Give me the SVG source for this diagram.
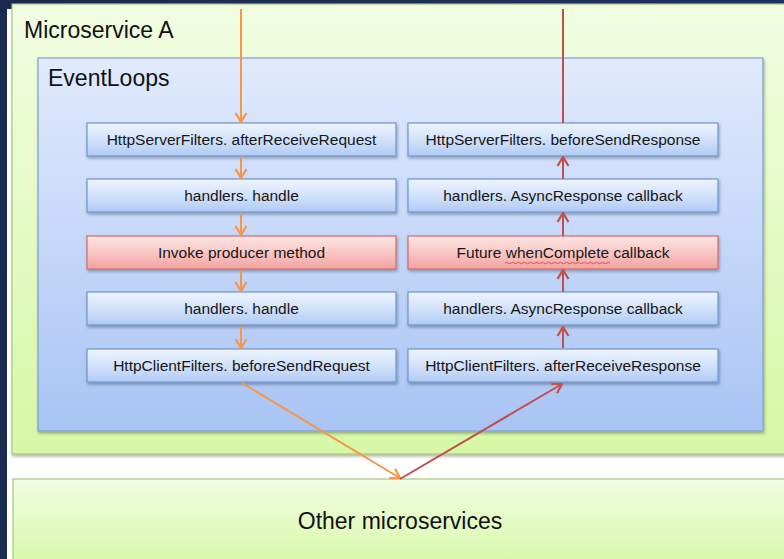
<svg xmlns="http://www.w3.org/2000/svg" width="784" height="559" viewBox="0 0 784 559">
  <defs>
    <linearGradient id="bg" x1="0" y1="0" x2="1" y2="0">
      <stop offset="0" stop-color="#1b2a4f"/>
      <stop offset="1" stop-color="#1f3163"/>
    </linearGradient>
    <linearGradient id="greenFill" x1="0" y1="0" x2="0" y2="1">
      <stop offset="0" stop-color="#f1fde2"/>
      <stop offset="1" stop-color="#d6f8a6"/>
    </linearGradient>
    <linearGradient id="blueFill" x1="0" y1="0" x2="0" y2="1">
      <stop offset="0" stop-color="#e1eafd"/>
      <stop offset="1" stop-color="#a9c4f5"/>
    </linearGradient>
    <linearGradient id="nodeBlue" x1="0" y1="0" x2="0" y2="1">
      <stop offset="0" stop-color="#eef4fe"/>
      <stop offset="0.5" stop-color="#d2e2fb"/>
      <stop offset="1" stop-color="#b1cbf4"/>
    </linearGradient>
    <linearGradient id="nodeRed" x1="0" y1="0" x2="0" y2="1">
      <stop offset="0" stop-color="#fde6e5"/>
      <stop offset="0.5" stop-color="#f9c6c4"/>
      <stop offset="1" stop-color="#f2a3a0"/>
    </linearGradient>
    <filter id="shadow" x="-5%" y="-20%" width="110%" height="150%">
      <feDropShadow dx="1" dy="2" stdDeviation="1.5" flood-color="#000" flood-opacity="0.3"/>
    </filter>
    <marker id="arrOrange" viewBox="0 0 14 14" refX="13" refY="7" markerWidth="14" markerHeight="14" markerUnits="userSpaceOnUse" orient="auto">
      <polyline points="4,1.5 13,7 4,12.5" fill="none" stroke="#f79646" stroke-width="2.2"/>
    </marker>
    <marker id="arrRed" viewBox="0 0 14 14" refX="13" refY="7" markerWidth="14" markerHeight="14" markerUnits="userSpaceOnUse" orient="auto">
      <polyline points="4,1.5 13,7 4,12.5" fill="none" stroke="#c0504d" stroke-width="2.2"/>
    </marker>
  </defs>
  <style>
    .title { font-family: "Liberation Sans", Arial, sans-serif; font-size: 23px; fill: #111; }
    .label { font-family: "Liberation Sans", Arial, sans-serif; font-size: 15.5px; fill: #161616; text-anchor: middle; }
    .nodeB { fill: url(#nodeBlue); stroke: #6f94cc; stroke-width: 1.2; filter: url(#shadow); }
    .nodeR { fill: url(#nodeRed); stroke: #d06a66; stroke-width: 1.2; filter: url(#shadow); }
    .fwd { stroke: #f79646; stroke-width: 2; fill: none; }
    .back { stroke: #c0504d; stroke-width: 2; fill: none; }
  </style>

  <!-- slide background -->
  <rect x="0" y="0" width="784" height="559" fill="url(#bg)"/>
  <rect x="7" y="9" width="777" height="550" fill="#ffffff"/>

  <!-- containers -->
  <g id="microservice-a">
    <rect x="12" y="4" width="780" height="450" fill="url(#greenFill)" stroke="#a9c47f" stroke-width="1.2" filter="url(#shadow)"/>
    <text class="title" x="24" y="38">Microservice A</text>
  </g>
  <g id="eventloops">
    <rect x="38" y="58" width="725" height="373" fill="url(#blueFill)" stroke="#7c9ed3" stroke-width="1.2" filter="url(#shadow)"/>
    <text class="title" x="48" y="86">EventLoops</text>
  </g>
  <g id="other-microservices">
    <rect x="13" y="479" width="780" height="90" fill="url(#greenFill)" stroke="#a9c47f" stroke-width="1.2"/>
    <text class="title" x="400" y="529" text-anchor="middle">Other microservices</text>
  </g>

  <!-- request path (left column) -->
  <g id="req-after-receive">
    <rect class="nodeB" x="87" y="123" width="309" height="33"/>
    <text class="label" x="241.5" y="145">HttpServerFilters. afterReceiveRequest</text>
  </g>
  <g id="req-handle-1">
    <rect class="nodeB" x="87" y="179" width="309" height="33"/>
    <text class="label" x="241.5" y="201">handlers. handle</text>
  </g>
  <g id="invoke-producer">
    <rect class="nodeR" x="87" y="236" width="309" height="33"/>
    <text class="label" x="241.5" y="258">Invoke producer method</text>
  </g>
  <g id="req-handle-2">
    <rect class="nodeB" x="87" y="292" width="309" height="33"/>
    <text class="label" x="241.5" y="314">handlers. handle</text>
  </g>
  <g id="client-before-send">
    <rect class="nodeB" x="87" y="349" width="309" height="33"/>
    <text class="label" x="241.5" y="371">HttpClientFilters. beforeSendRequest</text>
  </g>

  <!-- response path (right column) -->
  <g id="resp-before-send">
    <rect class="nodeB" x="408" y="123" width="310" height="33"/>
    <text class="label" x="563" y="145">HttpServerFilters. beforeSendResponse</text>
  </g>
  <g id="resp-async-1">
    <rect class="nodeB" x="408" y="179" width="310" height="33"/>
    <text class="label" x="563" y="201">handlers. AsyncResponse callback</text>
  </g>
  <g id="future-complete">
    <rect class="nodeR" x="408" y="236" width="310" height="33"/>
    <text class="label" x="563" y="258">Future whenComplete callback</text>
    <!-- spell-check squiggle under "whenComplete" -->
    <path d="M505 263 q1.5 -1.5 3 0 t3 0 t3 0 t3 0 t3 0 t3 0 t3 0 t3 0 t3 0 t3 0 t3 0 t3 0 t3 0 t3 0 t3 0 t3 0 t3 0 t3 0 t3 0 t3 0 t3 0 t3 0 t3 0 t3 0 t3 0 t3 0 t3 0 t3 0 t3 0 t3 0 t3 0 t3 0 t3 0 t3 0 t3 0" fill="none" stroke="#e03030" stroke-width="0.8"/>
  </g>
  <g id="resp-async-2">
    <rect class="nodeB" x="408" y="292" width="310" height="33"/>
    <text class="label" x="563" y="314">handlers. AsyncResponse callback</text>
  </g>
  <g id="client-after-receive">
    <rect class="nodeB" x="408" y="349" width="310" height="33"/>
    <text class="label" x="563" y="371">HttpClientFilters. afterReceiveResponse</text>
  </g>

  <!-- connectors -->
  <g id="connectors">
    <line class="fwd" x1="241" y1="9" x2="241" y2="122" marker-end="url(#arrOrange)"/>
    <line class="fwd" x1="241" y1="157" x2="241" y2="178" marker-end="url(#arrOrange)"/>
    <line class="fwd" x1="241" y1="213" x2="241" y2="235" marker-end="url(#arrOrange)"/>
    <line class="fwd" x1="241" y1="270" x2="241" y2="291" marker-end="url(#arrOrange)"/>
    <line class="fwd" x1="241" y1="326" x2="241" y2="348" marker-end="url(#arrOrange)"/>
    <line class="fwd" x1="242" y1="383" x2="400" y2="478" marker-end="url(#arrOrange)"/>

    <line class="back" x1="400" y1="479" x2="562" y2="384" marker-end="url(#arrRed)"/>
    <line class="back" x1="563" y1="348" x2="563" y2="327" marker-end="url(#arrRed)"/>
    <line class="back" x1="563" y1="292" x2="563" y2="270" marker-end="url(#arrRed)"/>
    <line class="back" x1="563" y1="236" x2="563" y2="213" marker-end="url(#arrRed)"/>
    <line class="back" x1="563" y1="179" x2="563" y2="157" marker-end="url(#arrRed)"/>
    <line class="back" x1="563" y1="123" x2="563" y2="9"/>
  </g>
</svg>
